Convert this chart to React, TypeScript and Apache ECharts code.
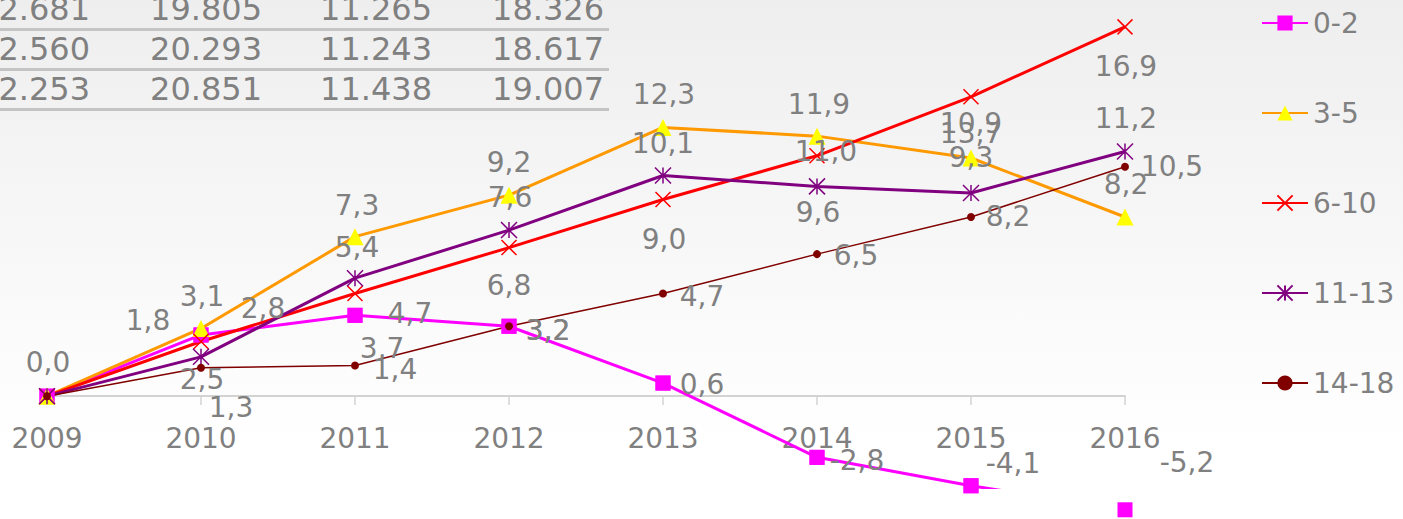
import React, { useEffect, useRef } from 'react';
import * as echarts from 'echarts';

// ---- data ----
const years = ['2009', '2010', '2011', '2012', '2013', '2014', '2015', '2016'];
const seriesNames = ['0-2', '3-5', '6-10', '11-13', '14-18'];
const v0_2 = [0.0, 2.8, 3.7, 3.2, 0.6, -2.8, -4.1, -5.2];
const v3_5 = [0.0, 3.1, 7.3, 9.2, 12.3, 11.9, 10.9, 8.2];
const v6_10 = [0.0, 2.5, 4.7, 6.8, 9.0, 11.0, 13.7, 16.9];
const v11_13 = [0.0, 1.8, 5.4, 7.6, 10.1, 9.6, 9.3, 11.2];
const v14_18 = [0.0, 1.3, 1.4, 3.2, 4.7, 6.5, 8.2, 10.5];

const tableRow1 = ['2.681', '19.805', '11.265', '18.326'];
const tableRow2 = ['2.560', '20.293', '11.243', '18.617'];
const tableRow3 = ['2.253', '20.851', '11.438', '19.007'];

// ---- label offsets (style); null = label hidden ----
type Off = number[] | null;
const off0_2: Off[] = [null, [62, -26], [27, 33], [39, 4], [39, 1], [40, 3], [42, -22], [62, -47]];
const off3_5: Off[] = [[1, -34], [1, -32], [2, -31], [0, -33], [1, -33], [2, -32], [0, -34], [1, -32]];
const off6_10: Off[] = [null, [1, 38], [55, 20], [0, 38], [1, 40], [9, -4], [0, 37], [1, 40]];
const off11_13: Off[] = [null, [-53, -36], [2, -31], [1, -33], [0, -32], [1, 26], [0, -35], [1, -33]];
const off14_18: Off[] = [null, [30, 40], [40, 4], [39, 4], [39, 3], [39, 1], [37, 0], [47, 0]];

const FONT = 'DejaVu Sans';
const GRAY = '#808080';
const CROSS = 'path://M0,0L10,10M10,0L0,10';
const STAR = 'path://M0,0L10,10M10,0L0,10M5,0L5,10';

const fmt = (v: number) => v.toFixed(1).replace('.', ',');
const withOffsets = (vals: number[], offs: Off[]) =>
  vals.map((v, i) =>
    offs[i] ? { value: v, label: { offset: offs[i] } } : { value: v, label: { show: false } }
  );

const labelBase = {
  show: true,
  position: 'inside',
  fontSize: 28,
  fontFamily: FONT,
  color: GRAY,
  formatter: (p: any) => fmt(p.value as number),
};

const tableCols = [90, 262, 432, 604];
const tableRowY = [9, 49, 89];
const tableLineY = [28, 68, 108];

export default function App() {
  const ref = useRef<HTMLDivElement>(null);

  useEffect(() => {
    if (!ref.current) return;
    const chart = echarts.init(ref.current, undefined, { renderer: 'svg' });

    const rows = [tableRow1, tableRow2, tableRow3];
    const graphics: any[] = [];
    rows.forEach((row, r) => {
      row.forEach((txt, c) => {
        graphics.push({
          type: 'text',
          x: tableCols[c],
          y: tableRowY[r],
          style: {
            text: txt,
            fontSize: 32,
            fontFamily: FONT,
            fill: GRAY,
            align: 'right',
            verticalAlign: 'middle',
          },
        });
      });
    });
    tableLineY.forEach((y) => {
      graphics.push({
        type: 'rect',
        shape: { x: 0, y: y, width: 609, height: 3 },
        style: { fill: '#c4c4c4' },
      });
    });

    const common = { xAxisIndex: 1, yAxisIndex: 1, emphasis: { disabled: true }, z: 2 };

    const option: any = {
      animation: false,
      backgroundColor: 'transparent',
      textStyle: { fontFamily: FONT },
      grid: [
        // visible axis grid: bottom edge at the zero line
        { left: 47, right: 278, top: 0, bottom: 123, containLabel: false, outerBoundsMode: 'none' },
        // plotting grid (clips the 0-2 line)
        { left: 47, right: 278, top: 0, bottom: 31.5, containLabel: false, outerBoundsMode: 'none' },
      ],
      legend: {
        data: seriesNames,
        orient: 'vertical',
        left: 1256,
        top: 4,
        itemWidth: 46,
        itemHeight: 19,
        itemGap: 62,
        textStyle: { fontSize: 28, color: GRAY, fontFamily: FONT },
        selectedMode: false,
      },
      xAxis: [
        {
          type: 'category',
          gridIndex: 0,
          data: years,
          boundaryGap: false,
          axisLine: { onZero: false, lineStyle: { color: '#d3d3d3', width: 2 } },
          axisTick: {
            show: true,
            length: 9,
            interval: (i: number) => i !== 0,
            lineStyle: { color: '#d3d3d3', width: 1.5 },
          },
          axisLabel: { interval: 0, fontSize: 28, color: GRAY, fontFamily: FONT, margin: 28 },
          splitLine: { show: false },
        },
        {
          type: 'category',
          gridIndex: 1,
          data: years,
          boundaryGap: false,
          show: false,
        },
      ],
      yAxis: [
        { type: 'value', gridIndex: 0, min: 0, max: 18.13, show: false, splitLine: { show: false } },
        { type: 'value', gridIndex: 1, min: -4.18, max: 18.13, show: false, splitLine: { show: false } },
      ],
      graphic: graphics,
      series: [
        {
          ...common,
          name: '0-2 markers',
          type: 'scatter',
          data: withOffsets(v0_2, off0_2),
          symbol: 'rect',
          symbolSize: 15,
          clip: false,
          itemStyle: { color: '#FF00FF', opacity: 1 },
          label: labelBase,
        },
        {
          ...common,
          name: '0-2',
          type: 'line',
          data: v0_2,
          symbol: 'rect',
          symbolSize: 15,
          clip: true,
          lineStyle: { color: '#FF00FF', width: 3 },
          itemStyle: { color: '#FF00FF' },
        },
        {
          ...common,
          name: '3-5',
          type: 'line',
          data: withOffsets(v3_5, off3_5),
          symbol: 'triangle',
          symbolSize: 17,
          lineStyle: { color: '#FF9900', width: 3 },
          itemStyle: { color: '#FFFF00' },
          label: labelBase,
        },
        {
          ...common,
          name: '6-10',
          type: 'line',
          data: withOffsets(v6_10, off6_10),
          symbol: CROSS,
          symbolSize: 15,
          lineStyle: { color: '#FF0000', width: 3 },
          itemStyle: { color: '#FF0000', borderColor: '#FF0000', borderWidth: 1.5 },
          label: labelBase,
        },
        {
          ...common,
          name: '11-13',
          type: 'line',
          data: withOffsets(v11_13, off11_13),
          symbol: STAR,
          symbolSize: 16,
          lineStyle: { color: '#800080', width: 3 },
          itemStyle: { color: '#800080', borderColor: '#800080', borderWidth: 1.5 },
          label: labelBase,
        },
        {
          ...common,
          name: '14-18',
          type: 'line',
          data: withOffsets(v14_18, off14_18),
          symbol: 'circle',
          symbolSize: 8,
          lineStyle: { color: '#800000', width: 1.5 },
          itemStyle: { color: '#800000' },
          label: labelBase,
        },
      ],
    };

    chart.setOption(option);
    return () => chart.dispose();
  }, []);

  return (
    <div
      ref={ref}
      style={{
        position: 'absolute',
        left: 0,
        top: 0,
        width: 1403,
        height: 519,
        background: 'linear-gradient(to bottom, #eeeeee 0%, #ffffff 85%)',
      }}
    />
  );
}
